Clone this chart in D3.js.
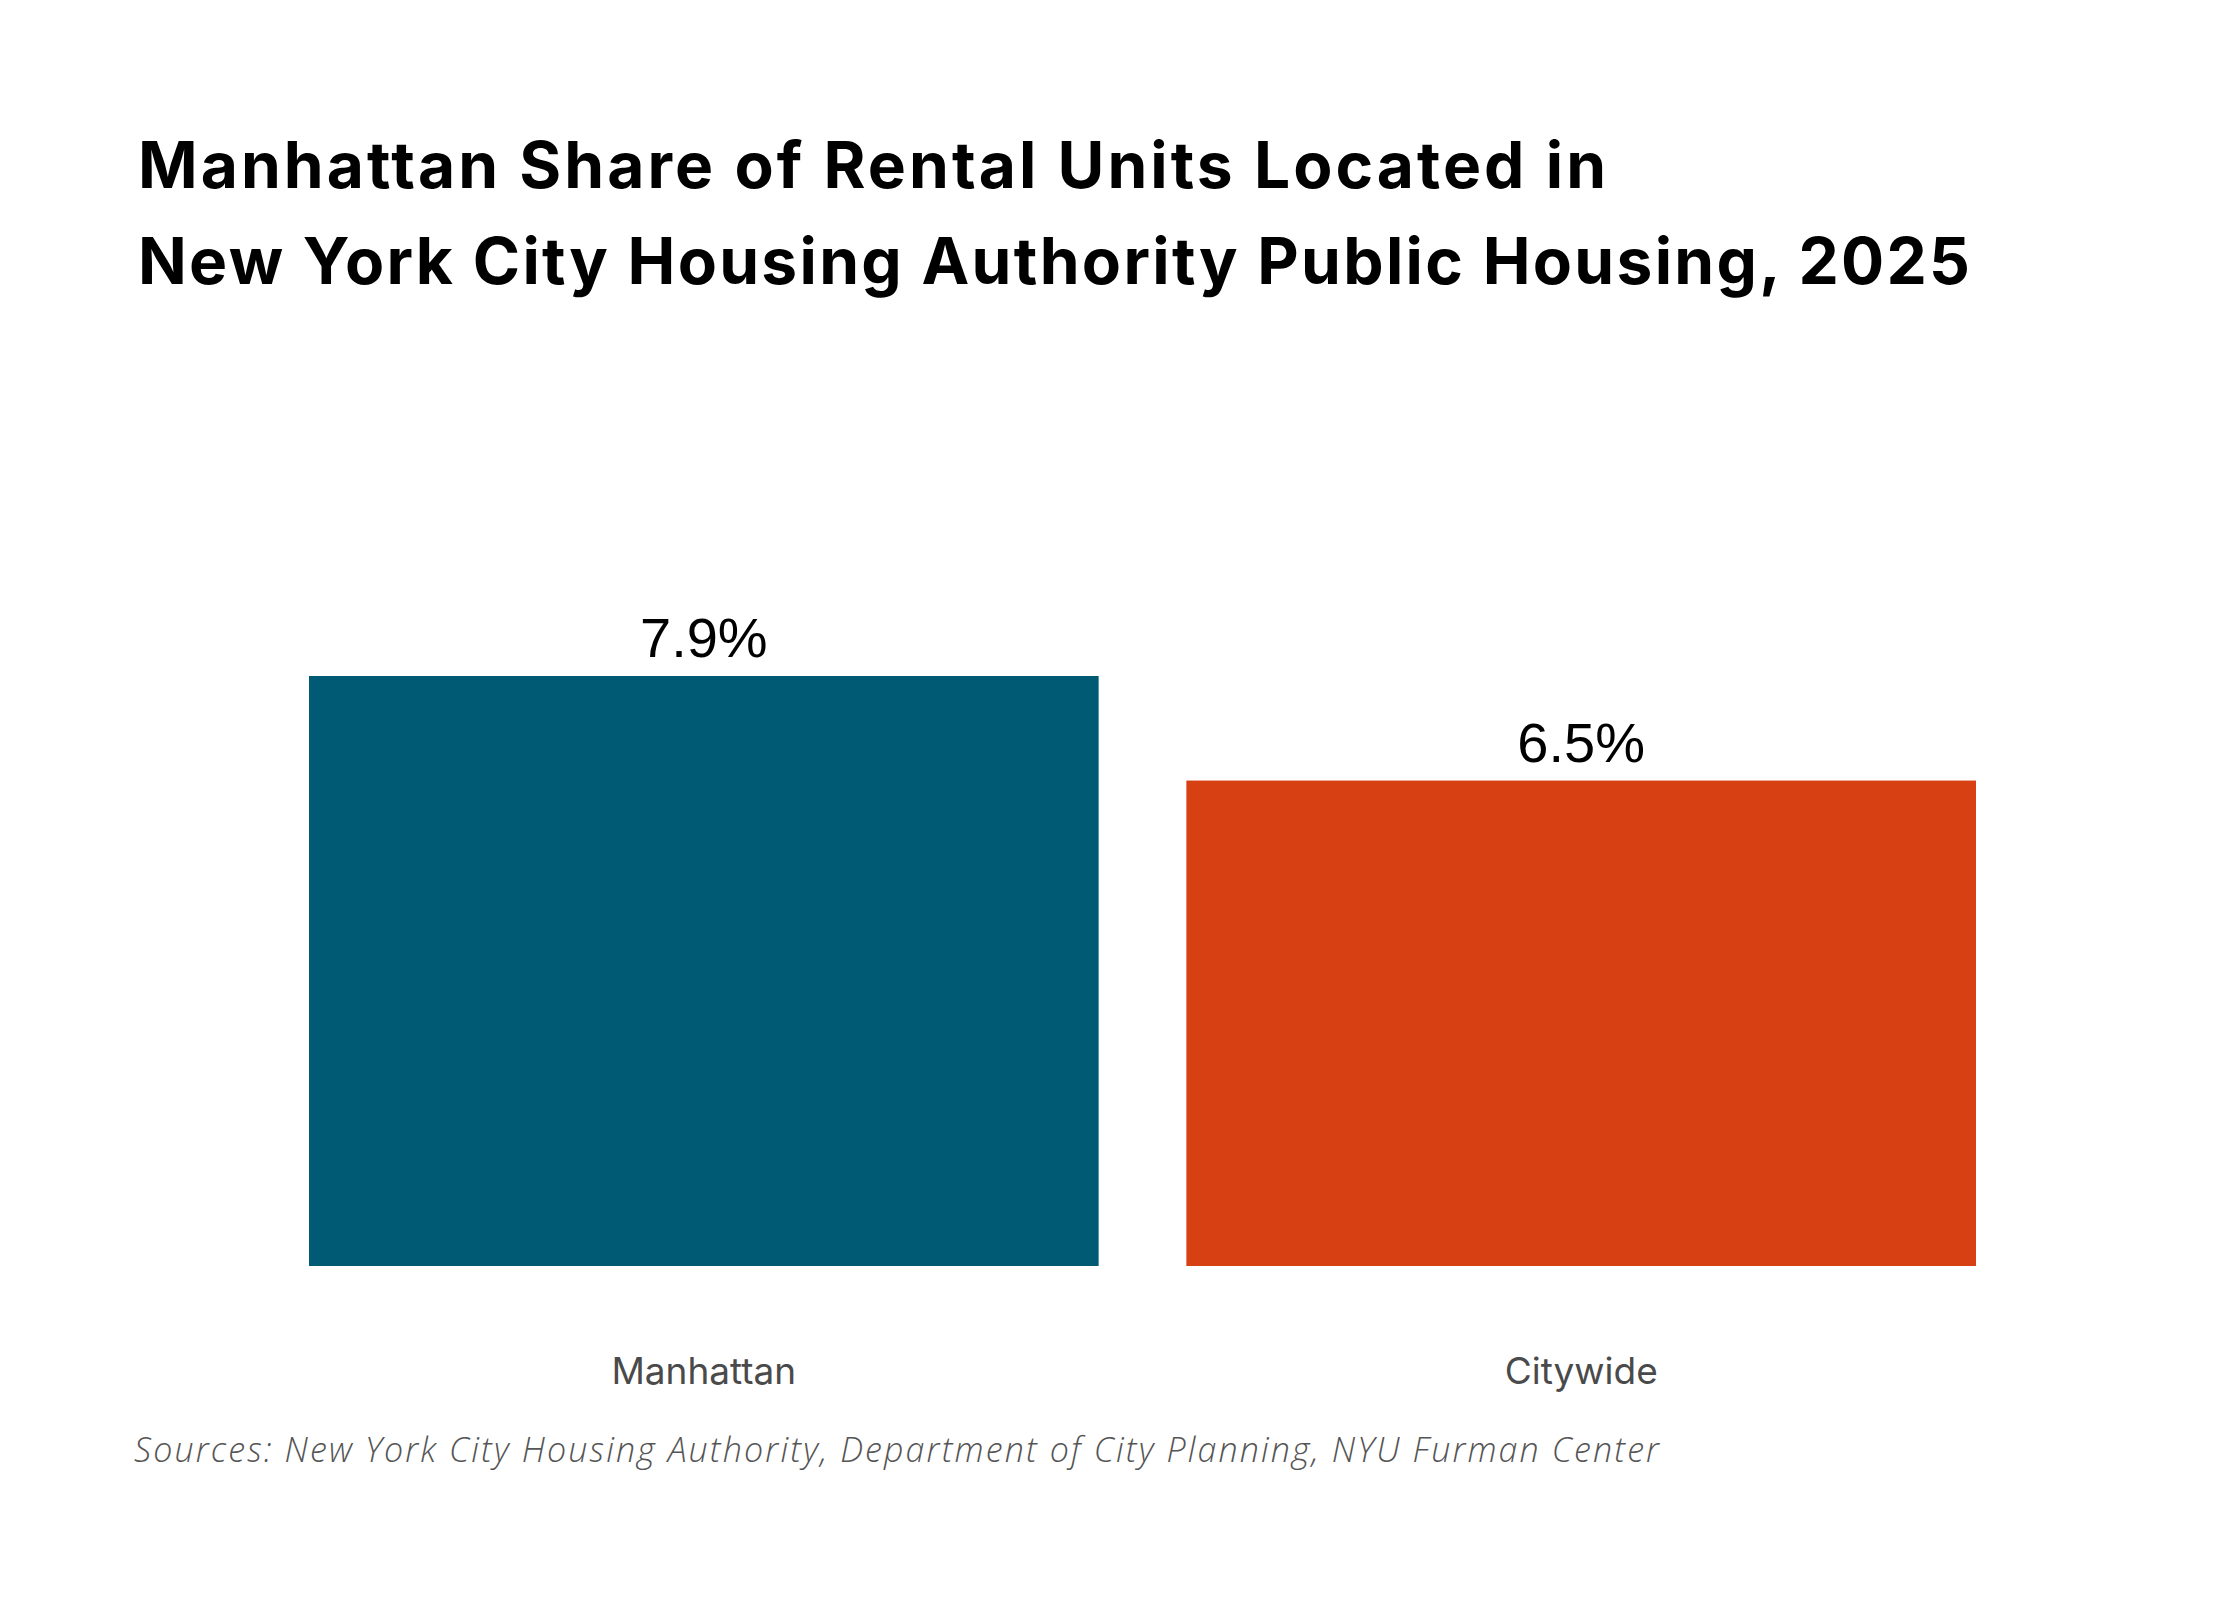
<!DOCTYPE html>
<html>
<head>
<meta charset="utf-8">
<script src="https://cdn.jsdelivr.net/npm/d3@7"></script>
<style>
  body { margin: 0; background: #fff; }
  svg { display: block; }
</style>
</head>
<body>
<svg id="chart" width="2240" height="1600"></svg>
<script>
// data
const categories = ["Manhattan", "Citywide"];
const shares = [7.9, 6.5];
const barColors = ["#005a73", "#d74013"];
const titleLines = [
  "Manhattan Share of Rental Units Located in",
  "New York City Housing Authority Public Housing, 2025"
];
const sourceText = "Sources: New York City Housing Authority, Department of City Planning, NYU Furman Center";

const svg = d3.select("#chart");
svg.append("rect").attr("width", 2240).attr("height", 1600).attr("fill", "#fff");

// stretch a text to a target width with letter spacing
const fitWidth = (sel, target) => {
  sel.each(function() {
    const n = this.getNumberOfChars();
    const w = this.getComputedTextLength();
    d3.select(this).attr("letter-spacing", (target - w) / (n - 1));
  });
};

const x = d3.scaleBand()
    .domain(categories)
    .range([309, 1976])
    .paddingInner(0.1)
    .paddingOuter(0);

const y = d3.scaleLinear()
    .domain([0, 7.9])
    .range([1266, 676]);

const data = categories.map((c, i) => ({ name: c, value: shares[i], color: barColors[i] }));

// title, each line fitted to the width it has in the original
const titleWidths = [1468, 1832];
svg.append("g")
    .attr("class", "title")
    .selectAll("text")
    .data(titleLines)
    .enter()
    .append("text")
      .attr("x", 138)
      .attr("y", (d, i) => 188 + i * 96)
      .style("font-family", "Inter, 'Noto Sans', sans-serif")
      .style("font-weight", "700")
      .style("font-size", "64px")
      .attr("fill", "#000")
      .text(d => d)
      .each(function(d, i) { fitWidth(d3.select(this), titleWidths[i]); });

// bars
svg.append("g")
    .selectAll("rect")
    .data(data)
    .enter()
    .append("rect")
      .attr("x", d => x(d.name))
      .attr("y", d => y(d.value))
      .attr("width", x.bandwidth())
      .attr("height", d => y(0) - y(d.value))
      .attr("fill", d => d.color);

// value labels
svg.append("g")
    .selectAll("text")
    .data(data)
    .enter()
    .append("text")
      .attr("x", d => x(d.name) + x.bandwidth() / 2)
      .attr("y", d => y(d.value) - 19)
      .attr("text-anchor", "middle")
      .style("font-family", "'Liberation Sans', Arial, sans-serif")
      .style("font-size", "56px")
      .attr("fill", "#000")
      .text(d => d.value.toFixed(1) + "%");

// category axis
const xAxis = svg.append("g")
    .attr("transform", "translate(0,1384)")
    .call(d3.axisBottom(x).tickSize(0).tickPadding(0));
xAxis.select(".domain").remove();
xAxis.selectAll("text")
    .attr("dy", 0)
    .style("font-family", "Inter, 'Noto Sans', sans-serif")
    .style("font-size", "37px")
    .attr("fill", "#4a4a4a");

// source
svg.append("text")
    .attr("x", 134)
    .attr("y", 1462)
    .style("font-family", "'Open Sans', Lato, sans-serif")
    .style("font-style", "italic")
    .style("font-weight", "300")
    .style("font-size", "34px")
    .attr("fill", "#555")
    .text(sourceText)
    .call(fitWidth, 1525);
</script>
</body>
</html>
